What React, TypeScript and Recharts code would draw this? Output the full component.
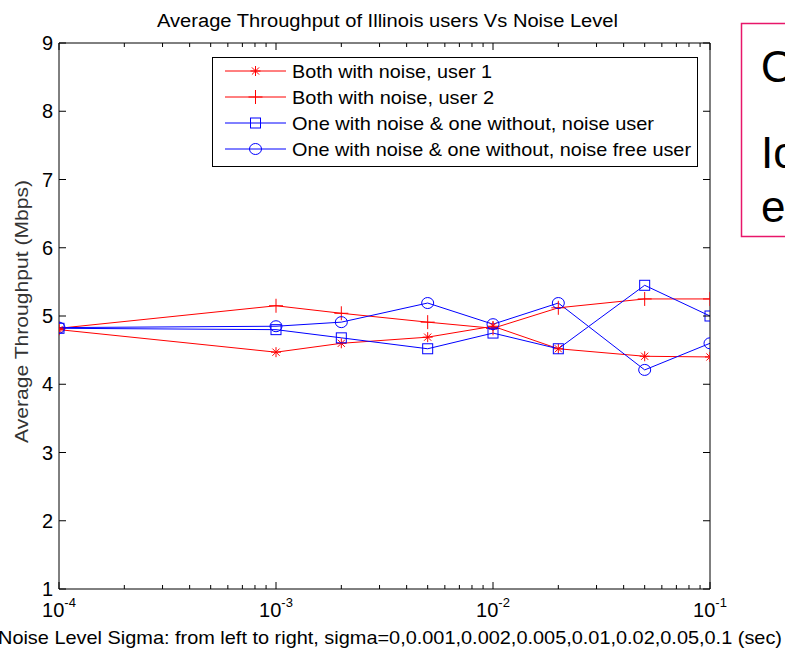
import { LineChart, Line, XAxis, YAxis, Legend } from 'recharts';

// sigma = 0 is drawn at 1e-4 on the log axis
const SIGMA = [1e-4, 1e-3, 2e-3, 5e-3, 1e-2, 2e-2, 5e-2, 1e-1];
const USER1 = [4.8, 4.47, 4.6, 4.69, 4.85, 4.52, 4.41, 4.4];
const USER2 = [4.82, 5.15, 5.04, 4.91, 4.82, 5.12, 5.25, 5.25];
const NOISE_USER = [4.82, 4.8, 4.68, 4.52, 4.75, 4.52, 5.45, 5.0];
const FREE_USER = [4.83, 4.85, 4.91, 5.19, 4.88, 5.19, 4.21, 4.6];

const X_MAJOR = [1e-4, 1e-3, 1e-2, 1e-1];
const X_MINOR = [
  2e-4, 3e-4, 4e-4, 5e-4, 6e-4, 7e-4, 8e-4, 9e-4,
  2e-3, 3e-3, 4e-3, 5e-3, 6e-3, 7e-3, 8e-3, 9e-3,
  2e-2, 3e-2, 4e-2, 5e-2, 6e-2, 7e-2, 8e-2, 9e-2,
];
const X_TICKS = [...X_MAJOR, ...X_MINOR].sort((a, b) => a - b);
const Y_TICKS = [1, 2, 3, 4, 5, 6, 7, 8, 9];

const SERIES = [
  { key: 'u1', name: 'Both with noise, user 1', color: '#ff0000', marker: 'star', values: USER1, textW: 200 },
  { key: 'u2', name: 'Both with noise, user 2', color: '#ff0000', marker: 'plus', values: USER2, textW: 202 },
  { key: 'nu', name: 'One with noise & one without, noise user', color: '#0000ff', marker: 'square', values: NOISE_USER, textW: 362 },
  { key: 'nf', name: 'One with noise & one without, noise free user', color: '#0000ff', marker: 'circle', values: FREE_USER, textW: 399 },
];

const rows = SIGMA.map((s, i) => {
  const r: any = { sigma: s };
  SERIES.forEach((se) => (r[se.key] = se.values[i]));
  return r;
});

const FONT = '"Liberation Sans", Arial, Helvetica, sans-serif';

const Marker = ({ kind, cx, cy, color }: any) => {
  if (cx == null || cy == null) return null;
  if (kind === 'star') {
    const a = 5, d = 3.6;
    return (
      <g stroke={color} strokeWidth={1}>
        <line x1={cx} y1={cy - a} x2={cx} y2={cy + a} />
        <line x1={cx - a} y1={cy} x2={cx + a} y2={cy} />
        <line x1={cx - d} y1={cy - d} x2={cx + d} y2={cy + d} />
        <line x1={cx - d} y1={cy + d} x2={cx + d} y2={cy - d} />
      </g>
    );
  }
  if (kind === 'plus') {
    const a = 7;
    return (
      <g stroke={color} strokeWidth={1}>
        <line x1={cx} y1={cy - a} x2={cx} y2={cy + a} />
        <line x1={cx - a} y1={cy} x2={cx + a} y2={cy} />
      </g>
    );
  }
  if (kind === 'square') {
    return <rect x={cx - 5} y={cy - 5} width={10} height={10} fill="none" stroke={color} strokeWidth={1} />;
  }
  return <ellipse cx={cx} cy={cy} rx={6} ry={5.5} fill="none" stroke={color} strokeWidth={1} />;
};

const isMajor = (v: number) => Math.abs(Math.log10(v) - Math.round(Math.log10(v))) < 1e-6;

const BottomTick = ({ x, y, payload }: any) => {
  const v = payload.value;
  const major = isMajor(v);
  return (
    <g>
      <line x1={x} x2={x} y1={y} y2={y - (major ? 7 : 4)} stroke="#000" />
      {major && (
        <text x={x} y={y + 28} textAnchor="middle" fontFamily={FONT} fontSize={20} fill="#000">
          10
          <tspan dy={-10} fontSize={13}>{Math.round(Math.log10(v))}</tspan>
        </text>
      )}
    </g>
  );
};

const TopTick = ({ x, y, payload }: any) => (
  <line x1={x} x2={x} y1={y} y2={y + (isMajor(payload.value) ? 7 : 4)} stroke="#000" />
);

const LeftTick = ({ x, y, payload }: any) => (
  <g>
    <line x1={x} x2={x + 7} y1={y} y2={y} stroke="#000" />
    <text x={x - 6} y={y + 7} textAnchor="end" fontFamily={FONT} fontSize={20} fill="#000">
      {payload.value}
    </text>
  </g>
);

const RightTick = ({ x, y }: any) => <line x1={x} x2={x - 7} y1={y} y2={y} stroke="#000" />;

const LegendBox = () => (
  <svg width={487} height={111} style={{ display: 'block' }}>
    <rect x={0.5} y={0.5} width={485} height={109} fill="#fff" stroke="#000" strokeWidth={1} />
    {SERIES.map((s, i) => {
      const cy = 14 + i * 26;
      return (
        <g key={s.key}>
          <line x1={13} x2={74} y1={cy} y2={cy} stroke={s.color} strokeWidth={1} />
          <Marker kind={s.marker} cx={43.5} cy={cy} color={s.color} />
          <text
            x={80}
            y={cy + 7}
            fontFamily={FONT}
            fontSize={19}
            fill="#000"
            textLength={s.textW}
            lengthAdjust="spacingAndGlyphs"
          >
            {s.name}
          </text>
        </g>
      );
    })}
  </svg>
);

export default function App() {
  return (
    <div style={{ position: 'absolute', left: 0, top: 0, width: 785, height: 649, background: '#fff', fontFamily: FONT }}>
      <LineChart width={785} height={649} data={rows} margin={{ top: 0, right: 0, bottom: 0, left: 0 }}>
        <XAxis
          xAxisId="b"
          dataKey="sigma"
          type="number"
          scale="log"
          domain={[1e-4, 0.1]}
          allowDataOverflow
          ticks={X_TICKS}
          interval={0}
          height={60}
          tickSize={0}
          tickMargin={0}
          tickLine={false}
          axisLine={{ stroke: '#000' }}
          tick={(p: any) => <BottomTick {...p} />}
        />
        <XAxis
          xAxisId="t"
          orientation="top"
          dataKey="sigma"
          type="number"
          scale="log"
          domain={[1e-4, 0.1]}
          allowDataOverflow
          ticks={X_TICKS}
          interval={0}
          height={43}
          tickSize={0}
          tickMargin={0}
          tickLine={false}
          axisLine={{ stroke: '#000' }}
          tick={(p: any) => <TopTick {...p} />}
        />
        <YAxis
          yAxisId="l"
          type="number"
          domain={[1, 9]}
          allowDataOverflow
          ticks={Y_TICKS}
          interval={0}
          width={59}
          tickSize={0}
          tickMargin={0}
          tickLine={false}
          axisLine={{ stroke: '#000' }}
          tick={(p: any) => <LeftTick {...p} />}
        />
        <YAxis
          yAxisId="r"
          orientation="right"
          type="number"
          domain={[1, 9]}
          allowDataOverflow
          ticks={Y_TICKS}
          interval={0}
          width={75}
          tickSize={0}
          tickMargin={0}
          tickLine={false}
          axisLine={{ stroke: '#000' }}
          tick={(p: any) => <RightTick {...p} />}
        />
        <Legend
          layout="horizontal"
          verticalAlign="middle"
          align="center"
          wrapperStyle={{ top: 57, left: 212, width: 487, height: 111 }}
          content={() => <LegendBox />}
        />
        {SERIES.map((s) => (
          <Line
            key={s.key}
            xAxisId="b"
            yAxisId="l"
            dataKey={s.key}
            name={s.name}
            type="linear"
            stroke={s.color}
            strokeWidth={1}
            isAnimationActive={false}
            dot={(p: any) => <Marker key={`${s.key}-${p.index}`} kind={s.marker} cx={p.cx} cy={p.cy} color={s.color} />}
            activeDot={false}
          />
        ))}
      </LineChart>

      <svg width={785} height={649} style={{ position: 'absolute', left: 0, top: 0, pointerEvents: 'none' }}>
        <text x={157} y={27} fontFamily={FONT} fontSize={18} fill="#000" textLength={461} lengthAdjust="spacingAndGlyphs">
          Average Throughput of Illinois users Vs Noise Level
        </text>
        <text
          transform="translate(28,443) rotate(-90)"
          x={0}
          y={0}
          fontFamily={FONT}
          fontSize={18}
          fill="#333"
          textLength={263}
          lengthAdjust="spacingAndGlyphs"
        >
          Average Throughput (Mbps)
        </text>
        <text x={-2} y={644} fontFamily={FONT} fontSize={19} fill="#000" textLength={784} lengthAdjust="spacingAndGlyphs">
          Noise Level Sigma: from left to right, sigma=0,0.001,0.002,0.005,0.01,0.02,0.05,0.1 (sec)
        </text>
        <rect x={741.5} y={23.5} width={60} height={213} fill="none" stroke="#e8166a" strokeWidth={1.5} />
        <text x={761} y={82} fontFamily={FONT} fontSize={44} fill="#000">O</text>
        <text x={761} y={168} fontFamily={FONT} fontSize={44} fill="#000">Io</text>
        <text x={761} y={222} fontFamily={FONT} fontSize={44} fill="#000">e</text>
      </svg>
    </div>
  );
}
